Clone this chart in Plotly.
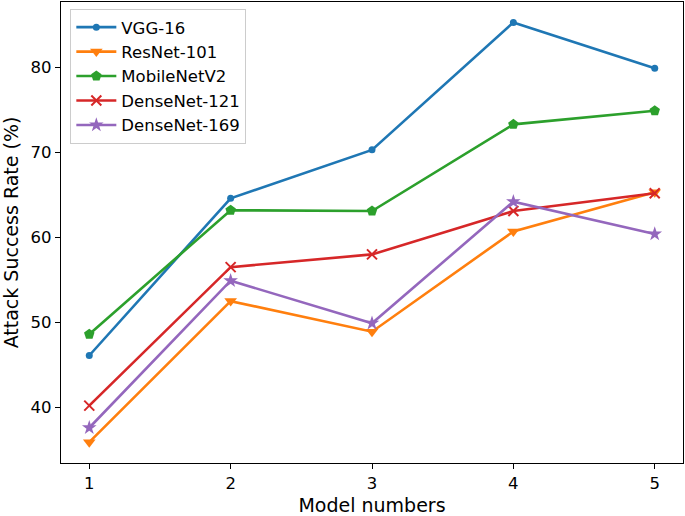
import plotly.graph_objects as go

model_numbers = [1, 2, 3, 4, 5]
vgg16 = [46.1, 64.6, 70.3, 85.3, 79.9]
resnet101 = [35.9, 52.5, 48.9, 60.7, 65.3]
mobilenetv2 = [48.6, 63.2, 63.1, 73.3, 74.9]
densenet121 = [40.2, 56.5, 58.0, 63.1, 65.2]
densenet169 = [37.6, 54.9, 49.9, 64.2, 60.4]
y_ticks = [40, 50, 60, 70, 80]

series = [
    ("VGG-16", vgg16, "#1f77b4", "circle", 7),
    ("ResNet-101", resnet101, "#ff7f0e", "triangle-down", 11),
    ("MobileNetV2", mobilenetv2, "#2ca02c", "pentagon", 11),
    ("DenseNet-121", densenet121, "#d62728", "x-thin", 10),
    ("DenseNet-169", densenet169, "#9467bd", "star", 11),
]

fig = go.Figure()
for name, vals, color, sym, size in series:
    marker = dict(symbol=sym, size=size, color=color)
    if sym == "x-thin":
        marker["line"] = dict(color=color, width=2)
    fig.add_trace(go.Scatter(
        x=model_numbers, y=vals, name=name, mode="lines+markers",
        line=dict(color=color, width=2.6), marker=marker))

axis_common = dict(
    showline=True, linecolor="black", linewidth=1.3, mirror=True,
    ticks="outside", ticklen=5, tickwidth=1.3, tickcolor="black",
    showgrid=False, zeroline=False, automargin=False,
    tickfont=dict(family="DejaVu Sans", size=16.5, color="black"),
)

fig.update_layout(
    width=685, height=516,
    margin=dict(l=61, r=2, t=2, b=53),
    paper_bgcolor="white", plot_bgcolor="white",
    font=dict(family="DejaVu Sans", color="black"),
    xaxis=dict(range=[0.8, 5.2], tickvals=model_numbers,
               title=dict(text="Model numbers", font=dict(size=19)),
               **axis_common),
    yaxis=dict(range=[33.45, 87.7], tickvals=y_ticks,
               title=dict(text="Attack Success Rate (%)", font=dict(size=19)),
               **axis_common),
    legend=dict(x=0.015, y=0.985, xanchor="left", yanchor="top",
                bgcolor="rgba(255,255,255,0.8)", bordercolor="#cccccc", borderwidth=1,
                font=dict(family="DejaVu Sans", size=16.5, color="black"),
                itemwidth=40, tracegroupgap=0),
    showlegend=True,
)

fig.write_html("out.html", config={"displayModeBar": False},
               post_script="document.body.style.margin='0';document.body.style.overflow='hidden';")
